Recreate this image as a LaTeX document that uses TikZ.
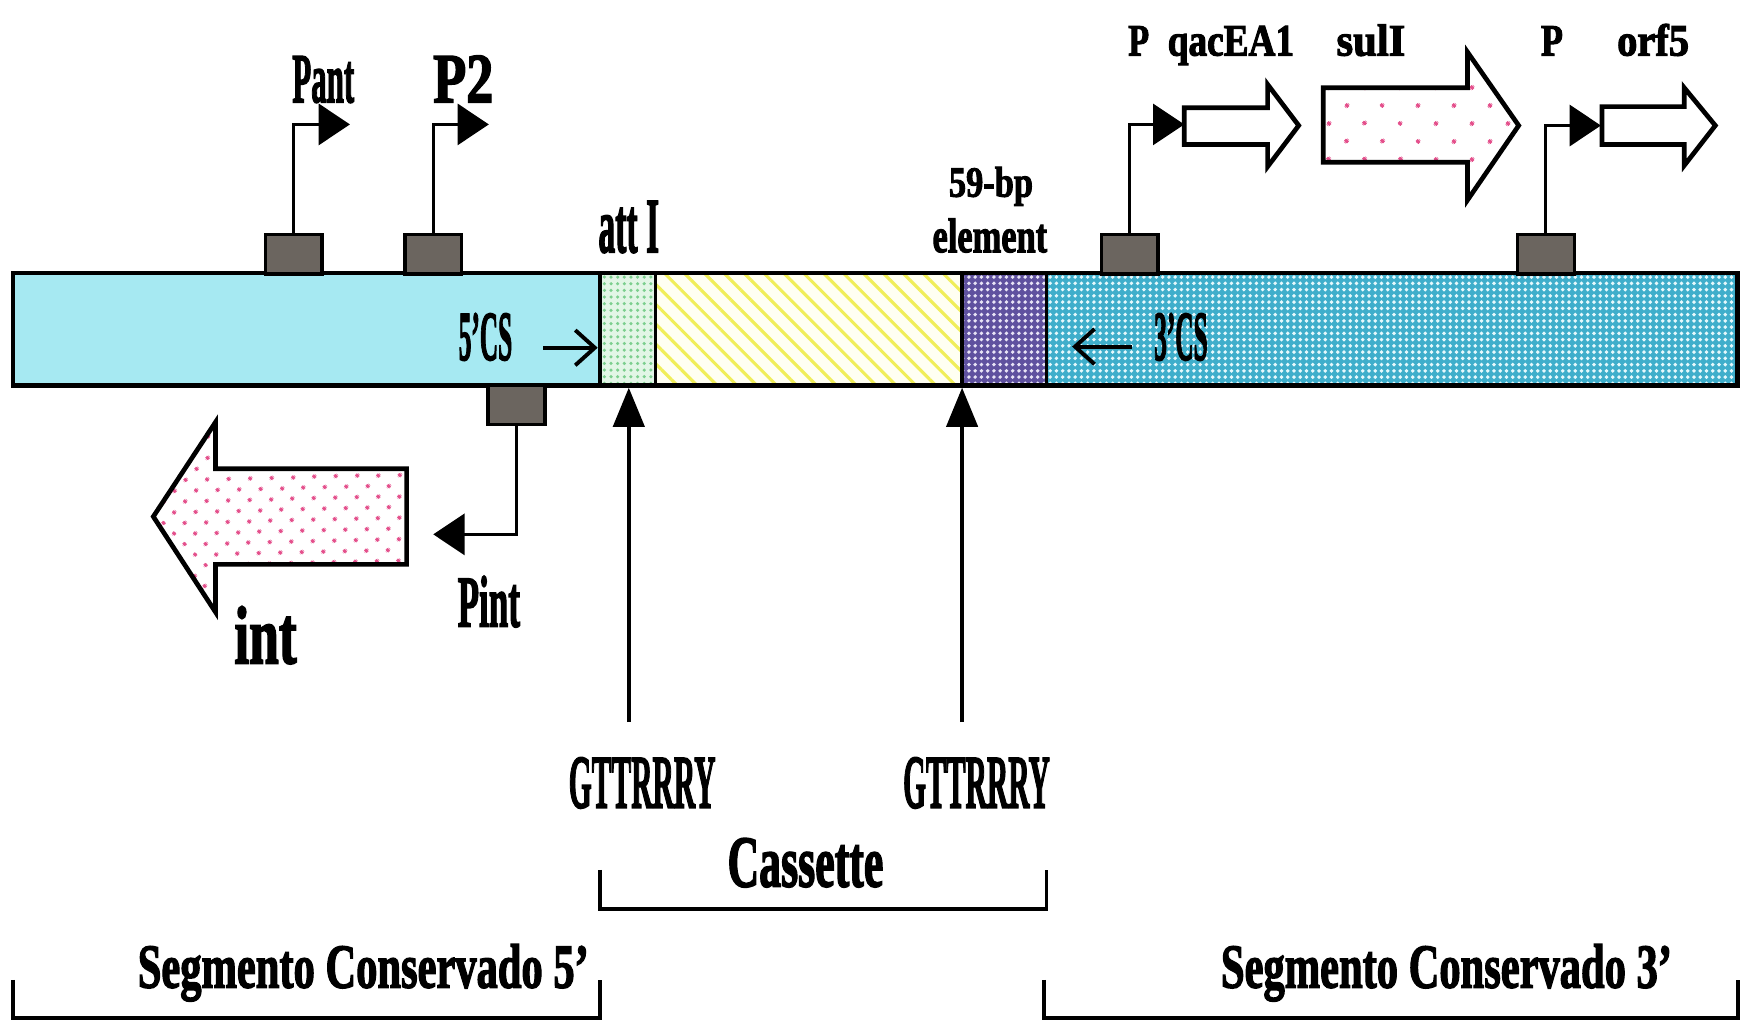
\documentclass[tikz,border=0pt]{standalone}
\usepackage{fontspec}
\setmainfont{Liberation Serif}[BoldFeatures={FakeBold=2.5}]
\usepackage{graphicx}
\usetikzlibrary{patterns.meta,arrows.meta}
\definecolor{csfive}{HTML}{A6E9F2}
\definecolor{attbg}{HTML}{E2F6E6}
\definecolor{attdot}{HTML}{7CCF8E}
\definecolor{hatchy}{HTML}{F0EE5A}
\definecolor{hatchbg}{HTML}{FFFFF2}
\definecolor{purpbg}{HTML}{5F519F}
\definecolor{purpdot}{HTML}{E8E4F6}
\definecolor{csthree}{HTML}{3FAECB}
\definecolor{csthreedot}{HTML}{E6F8FC}
\definecolor{promgray}{HTML}{6B655F}
\definecolor{pinkdot}{HTML}{E4508C}
\newcommand{\tl}[3]{\scalebox{#1}[1]{\fontsize{#2pt}{#2pt}\selectfont\bfseries #3}}
\begin{document}
\begin{tikzpicture}[x=0.01cm,y=-0.01cm,
  pbox/.style={draw=black, line width=0.9pt, fill=promgray, minimum width=0.51cm, minimum height=0.355cm, inner sep=0pt},
  pline/.style={line width=0.8pt, -{Triangle[length=8pt,width=10.5pt]}},
  lbl/.style={inner sep=0pt, anchor=base},
  gene/.style={draw=black, line width=1.2pt, line join=miter},
  bracket/.style={line width=1pt},
  thinarr/.style={line width=1pt, -{Straight Barb[length=5pt,width=9pt]}},
  uparr/.style={line width=0.9pt, -{Triangle[length=10pt,width=8pt]}}
]
\useasboundingbox (0,0) rectangle (1568,919);
\fill[white] (0,0) rectangle (1568,919);

% ---- main bar ----
\fill[csfive] (12,246) rectangle (540,347);
\fill[attbg] (540,246) rectangle (590,347);
\fill[pattern={Dots[distance=1.7pt,radius=0.45pt]}, pattern color=attdot] (540,246) rectangle (590,347);
\fill[hatchbg] (590,246) rectangle (866,347);
\fill[pattern={Lines[angle=-45,distance=3.6pt,line width=0.8pt]}, pattern color=hatchy] (590,246) rectangle (866,347);
\fill[purpbg] (866,246) rectangle (942,347);
\fill[pattern={Dots[distance=1.6pt,radius=0.5pt]}, pattern color=purpdot] (866,246) rectangle (942,347);
\fill[csthree] (942,246) rectangle (1564,347);
\fill[pattern={Dots[distance=1.6pt,radius=0.5pt]}, pattern color=csthreedot] (942,246) rectangle (1564,347);
\draw[line width=1.1pt] (12,246) rectangle (1564,347);
\draw[line width=0.9pt] (540,246) -- (540,347) (590,246) -- (590,347) (866,246) -- (866,347) (942,246) -- (942,347);

% ---- promoters ----
\node[pbox] (bPant) at (264.5,229) {};
\node[pbox] (bP2) at (390,229) {};
\node[pbox] (bPint) at (465,364.5) {};
\node[pbox] (bPq) at (1017,229) {};
\node[pbox] (bPo) at (1391.5,229) {};
\coordinate (tPant) at (315,112);
\coordinate (tP2) at (440,112);
\coordinate (tPint) at (390,481);
\coordinate (tPq) at (1066,112);
\coordinate (tPo) at (1441,113);
\draw[pline] (bPant.north) |- (tPant);
\draw[pline] (bP2.north) |- (tP2);
\draw[pline] (bPint.south) |- (tPint);
\draw[pline] (bPq.north) |- (tPq);
\draw[pline] (bPo.north) |- (tPo);

% ---- genes ----
\draw[gene, preaction={fill=white}, pattern={Dots[distance=4pt,radius=0.6pt,angle=45]}, pattern color=pinkdot]
  (366,422) -- (194,422) -- (194,380) -- (138,465) -- (194,551) -- (194,508) -- (366,508) -- cycle;
\draw[gene, fill=white]
  (1066,97) -- (1141,97) -- (1141,76) -- (1169,113) -- (1141,150) -- (1141,130) -- (1066,130) -- cycle;
\draw[gene, preaction={fill=white}, pattern={Dots[distance=6.5pt,radius=0.6pt,angle=45]}, pattern color=pinkdot]
  (1191,79) -- (1321,79) -- (1321,47) -- (1367,113) -- (1321,180) -- (1321,146) -- (1191,146) -- cycle;
\draw[gene, fill=white]
  (1442,96) -- (1516,96) -- (1516,79) -- (1544,113) -- (1516,149) -- (1516,130) -- (1442,130) -- cycle;

% ---- small arrows inside the bar ----
\coordinate (c5a) at (489,313);
\coordinate (c5b) at (538,313);
\coordinate (c3a) at (1019,312);
\coordinate (c3b) at (965,312);
\draw[thinarr] (c5a) -- (c5b);
\draw[thinarr] (c3a) -- (c3b);

% ---- GTTRRRY arrows ----
\coordinate (gL) at (566,650);
\coordinate (aL) at (566,349);
\coordinate (gR) at (866,650);
\coordinate (aR) at (866,349);
\draw[uparr] (gL) -- (aL);
\draw[uparr] (gR) -- (aR);

% ---- brackets ----
\draw[bracket] (540,783) -- (540,818) -- (942,818) -- (942,783);
\draw[bracket] (12,882) -- (12,916) -- (540,916) -- (540,882);
\draw[bracket] (940,882) -- (940,916) -- (1564,916) -- (1564,882);

% ---- labels ----
\node[lbl] (lPant) at (291,92) {\tl{0.44}{18}{Pant}};
\node[lbl] (lP2) at (417,92) {\tl{0.77}{18}{P2}};
\node[lbl] (lattI) at (566,227) {\tl{0.43}{20}{att I}};
\node[lbl] (l59) at (892,177) {\tl{0.8}{11}{59-bp}};
\node[lbl] (lelem) at (891,227) {\tl{0.71}{12.4}{element}};
\node[lbl] (l5cs) at (437,324) {\tl{0.36}{18}{5'CS}};
\node[lbl] (l3cs) at (1063,324) {\tl{0.36}{18}{3'CS}};
\node[lbl] (lPq) at (1025,50) {\tl{0.76}{11.5}{P}};
\node[lbl] (lqac) at (1108,50) {\tl{0.83}{11.5}{qacEA1}};
\node[lbl] (lsul) at (1234,50) {\tl{0.95}{11.5}{sulI}};
\node[lbl] (lPo) at (1397,50) {\tl{0.8}{11.5}{P}};
\node[lbl] (lorf) at (1488,50) {\tl{0.9}{11.5}{orf5}};
\node[lbl] (lPint) at (440,564) {\tl{0.48}{18.7}{Pint}};
\node[lbl] (lint) at (239,597) {\tl{0.65}{21}{int}};
\node[lbl] (lgL) at (578,727) {\tl{0.39}{19.4}{GTTRRRY}};
\node[lbl] (lgR) at (879,727) {\tl{0.39}{19.4}{GTTRRRY}};
\node[lbl] (lcas) at (725,798) {\tl{0.6}{18.7}{Cassette}};
\node[lbl] (lseg5) at (327,889) {\tl{0.68}{16}{Segmento Conservado 5'}};
\node[lbl] (lseg3) at (1302,889) {\tl{0.68}{16}{Segmento Conservado 3'}};
\end{tikzpicture}
\end{document}
